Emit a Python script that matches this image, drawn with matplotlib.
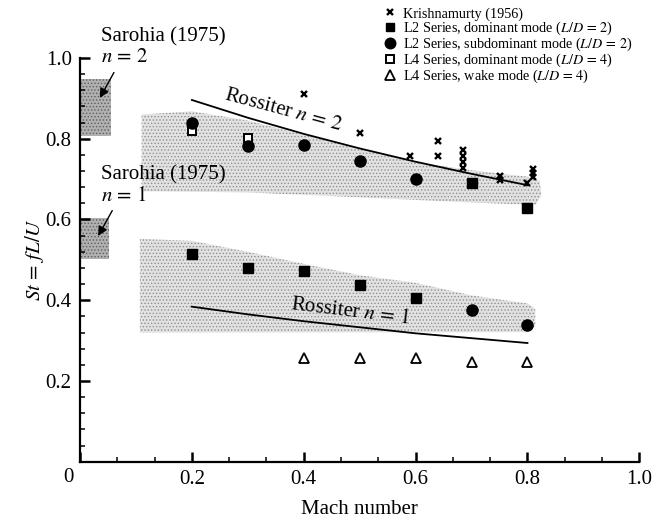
import matplotlib
matplotlib.use("Agg")
import matplotlib.pyplot as plt
import numpy as np
from matplotlib.patches import Polygon, Rectangle

plt.rcParams['font.family'] = ['Liberation Serif', 'DejaVu Serif']
plt.rcParams['mathtext.fontset'] = 'stix'
plt.rcParams['hatch.linewidth'] = 0.6

# Krishnamurty (1956)
kr_mach = [0.4, 0.5, 0.59, 0.64, 0.64, 0.685, 0.685, 0.685, 0.685, 0.75, 0.75, 0.80, 0.81, 0.81, 0.81]
kr_st = [0.912, 0.813, 0.756, 0.794, 0.756, 0.772, 0.757, 0.743, 0.728, 0.708, 0.698, 0.691, 0.725, 0.714, 0.704]

# L2 series, dominant mode
l2d_mach = [0.2, 0.3, 0.4, 0.5, 0.6, 0.7, 0.8]
l2d_st = [0.514, 0.479, 0.473, 0.438, 0.405, 0.691, 0.629]

# L2 series, subdominant mode
l2s_mach = [0.2, 0.3, 0.4, 0.5, 0.6, 0.7, 0.8]
l2s_st = [0.838, 0.781, 0.784, 0.744, 0.701, 0.375, 0.338]

# L4 series, dominant mode
l4d_mach = [0.2, 0.3]
l4d_st = [0.819, 0.803]

# L4 series, wake mode
l4w_mach = [0.4, 0.5, 0.6, 0.7, 0.8]
l4w_st = [0.258, 0.258, 0.258, 0.247, 0.247]

# Rossiter curves
ross_mach = [0.2, 0.3, 0.4, 0.5, 0.6, 0.7, 0.8]
ross_n2 = [0.896, 0.852, 0.812, 0.776, 0.743, 0.713, 0.685]
ross_n1 = [0.384, 0.365, 0.348, 0.333, 0.318, 0.306, 0.294]

# shaded bands (outline as Mach, St)
band2_mach = [0.11, 0.11, 0.2, 0.3, 0.4, 0.5, 0.6, 0.7, 0.8, 0.822, 0.825, 0.815, 0.7, 0.5, 0.3, 0.11]
band2_st = [0.67, 0.86, 0.868, 0.845, 0.81, 0.775, 0.742, 0.722, 0.706, 0.695, 0.66, 0.636, 0.642, 0.655, 0.667, 0.67]
band1_mach = [0.107, 0.107, 0.2, 0.3, 0.4, 0.5, 0.6, 0.7, 0.8, 0.814, 0.814, 0.8, 0.107]
band1_st = [0.32, 0.552, 0.547, 0.52, 0.49, 0.462, 0.443, 0.412, 0.392, 0.378, 0.335, 0.321, 0.32]

fig = plt.figure(figsize=(6.56, 5.21), dpi=100)
ax = fig.add_axes([0.122, 0.1138, 0.8526, 0.7749])

band_kw = dict(facecolor='#e2e2e2', edgecolor='#8f8f8f', hatch='.....', linewidth=0, zorder=1)
ax.add_patch(Polygon(np.column_stack([band2_mach, band2_st]), **band_kw))
ax.add_patch(Polygon(np.column_stack([band1_mach, band1_st]), **band_kw))

# Sarohia (1975) boxes
box_kw = dict(facecolor='#b0b0b0', edgecolor='#5e5e5e', hatch='.....', linewidth=0, zorder=1)
ax.add_patch(Rectangle((0.0, 0.807), 0.055, 0.14, **box_kw))
ax.add_patch(Rectangle((0.0, 0.502), 0.052, 0.101, **box_kw))

ax.plot(ross_mach, ross_n2, color='black', lw=1.3, zorder=3)
ax.plot(ross_mach, ross_n1, color='black', lw=1.3, zorder=3)

ax.plot(kr_mach, kr_st, ls='none', marker='x', ms=4.5, mew=1.7, color='black', zorder=5,
        label=r'Krishnamurty (1956)')
ax.plot(l2d_mach, l2d_st, ls='none', marker='s', ms=6.5, color='black', zorder=5,
        label=r'L2 Series, dominant mode ($L/D\,=\,2$)')
ax.plot(l2s_mach, l2s_st, ls='none', marker='o', ms=8, color='black', zorder=5,
        label=r'L2 Series, subdominant mode ($L/D\,=\,2$)')
ax.plot(l4d_mach, l4d_st, ls='none', marker='s', ms=5.8, mfc='white', mec='black', mew=1.4, zorder=4,
        label=r'L4 Series, dominant mode ($L/D\,=\,4$)')
ax.plot(l4w_mach, l4w_st, ls='none', marker='^', ms=7, mfc='white', mec='black', mew=1.3, zorder=5,
        label=r'L4 Series, wake mode ($L/D\,=\,4$)')

leg = ax.legend(loc='upper left', bbox_to_anchor=(0.574, 1.0), bbox_transform=fig.transFigure,
                frameon=False, fontsize=10.2, handlelength=0.9, handletextpad=0.45,
                labelspacing=-0.08, borderpad=0, markerscale=0.95,
                prop={'family': 'Liberation Serif', 'size': 10.2})

# annotations
fs = 15
ax.text(0.037, 1.052, 'Sarohia (1975)', fontsize=fs, ha='left', va='center', clip_on=False)
ax.text(0.037, 1.0, r'$n\,=\,2$', fontsize=fs, ha='left', va='center', clip_on=False)
ax.text(0.037, 0.71, 'Sarohia (1975)', fontsize=fs, ha='left', va='center')
ax.text(0.037, 0.656, r'$n\,=\,1$', fontsize=fs, ha='left', va='center')
ax.annotate('', xy=(0.033, 0.895), xytext=(0.063, 0.970),
            arrowprops=dict(arrowstyle='-|>', color='black', lw=1, mutation_scale=14))
ax.annotate('', xy=(0.03, 0.553), xytext=(0.06, 0.628),
            arrowprops=dict(arrowstyle='-|>', color='black', lw=1, mutation_scale=14))
ax.text(0.364, 0.871, r'Rossiter $n\,=\,2$', fontsize=fs, rotation=-15, ha='center', va='center', zorder=6)
ax.text(0.483, 0.372, r'Rossiter $n\,=\,1$', fontsize=fs, rotation=-7, ha='center', va='center', zorder=6)

ax.set_xlim(0, 1.0)
ax.set_ylim(0, 1.0)
ax.spines['top'].set_visible(False)
ax.spines['right'].set_visible(False)
ax.spines['left'].set_linewidth(1.6)
ax.spines['bottom'].set_linewidth(1.6)

ax.set_xticks([0, 0.2, 0.4, 0.6, 0.8, 1.0])
ax.set_xticklabels(['', '0.2', '0.4', '0.6', '0.8', '1.0'])
ax.set_xticks(np.arange(1, 15) / 15, minor=True)
ax.set_yticks([0.2, 0.4, 0.6, 0.8, 1.0])
ax.set_yticklabels(['0.2', '0.4', '0.6', '0.8', '1.0'])
ax.set_yticks([0.04, 0.08, 0.12, 0.16, 0.24, 0.28, 0.32, 0.36, 0.44, 0.48, 0.52, 0.56,
               0.64, 0.68, 0.72, 0.76, 0.84, 0.88, 0.92, 0.96], minor=True)
ax.tick_params(which='major', direction='in', length=7, width=1.8, labelsize=fs, pad=6)
ax.tick_params(which='minor', direction='in', length=3.6, width=1.1)
ax.text(-0.0215, -0.038, '0', fontsize=fs, ha='center', va='center', clip_on=False)

ax.set_xlabel('Mach number', fontsize=fs, labelpad=8)
ax.set_ylabel(r'$St\,=\,fL/U$', fontsize=fs, labelpad=0)

fig.savefig('out.png', dpi=100)
